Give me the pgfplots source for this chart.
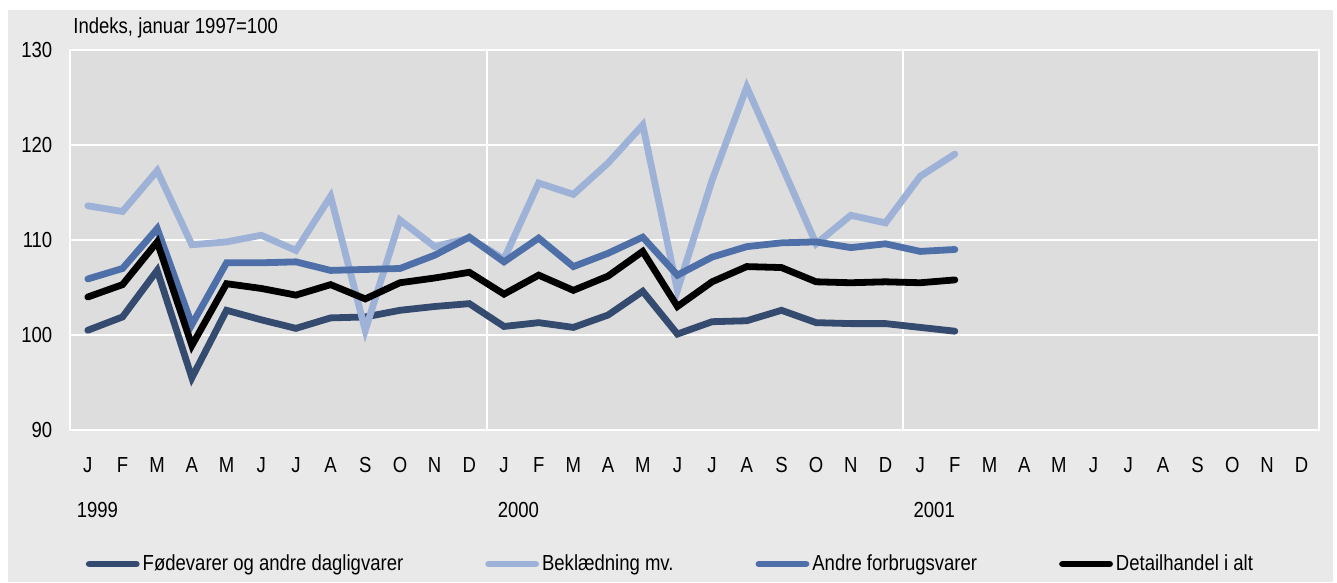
\documentclass[border=0pt]{standalone}
\usepackage{fontspec}
\setmainfont{Liberation Sans}[FakeStretch=0.85]
\usepackage{pgfplots}
\usepackage{pgfplotstable}
\pgfplotsset{compat=1.18}
\definecolor{outerbg}{HTML}{E9E9E9}
\definecolor{plotbg}{HTML}{DDDDDD}
\definecolor{cNavy}{HTML}{344A6E}
\definecolor{cLight}{HTML}{9DB2D6}
\definecolor{cMid}{HTML}{4F6FA8}

\pgfplotstableread{
x y
0 100.5
1 101.9
2 106.8
3 95.5
4 102.6
5 101.6
6 100.7
7 101.8
8 101.9
9 102.6
10 103.0
11 103.3
12 100.9
13 101.3
14 100.8
15 102.1
16 104.6
17 100.1
18 101.4
19 101.5
20 102.6
21 101.3
22 101.2
23 101.2
24 100.8
25 100.4
}\foede
\pgfplotstableread{
x y
0 113.6
1 113.0
2 117.3
3 109.5
4 109.8
5 110.5
6 108.9
7 114.6
8 100.5
9 112.1
10 109.3
11 110.2
12 108.0
13 116.0
14 114.8
15 118.1
16 122.1
17 104.7
18 116.3
19 126.1
20 117.9
21 109.6
22 112.6
23 111.8
24 116.7
25 119.05
}\bekl
\pgfplotstableread{
x y
0 105.9
1 107.0
2 111.2
3 101.1
4 107.6
5 107.6
6 107.7
7 106.8
8 106.9
9 107.0
10 108.4
11 110.3
12 107.7
13 110.2
14 107.2
15 108.6
16 110.3
17 106.3
18 108.2
19 109.3
20 109.7
21 109.8
22 109.2
23 109.6
24 108.8
25 109.0
}\andre
\pgfplotstableread{
x y
0 104.0
1 105.3
2 109.8
3 98.9
4 105.4
5 104.9
6 104.2
7 105.3
8 103.8
9 105.5
10 106.0
11 106.6
12 104.3
13 106.3
14 104.7
15 106.2
16 108.8
17 103.0
18 105.6
19 107.2
20 107.1
21 105.6
22 105.5
23 105.6
24 105.5
25 105.8
}\detail

\begin{document}
\begin{tikzpicture}[font=\fontsize{10.9bp}{13bp}\selectfont]
\fill[white] (-35.25bp,-76.5bp) rectangle (633.25bp,215bp);
\useasboundingbox (-35.25bp,-76.5bp) rectangle (633.25bp,215bp);
\fill[outerbg] (-31.25bp,-76bp) rectangle (631.25bp,210bp);
\begin{axis}[
  at={(0,0)}, anchor=south west,
  scale only axis, width=624.25bp, height=190bp,
  xmin=-0.5, xmax=35.5, ymin=90, ymax=130,
  clip=false,
  axis background/.style={fill=plotbg},
  axis line style={white, line width=1bp},
  ytick={90,100,110,120,130},
  ymajorgrids,
  grid style={white, line width=1bp},
  xtick={0,...,35},
  xticklabels={J,F,M,A,M,J,J,A,S,O,N,D,J,F,M,A,M,J,J,A,S,O,N,D,J,F,M,A,M,J,J,A,S,O,N,D},
  extra x ticks={11.5,23.5},
  extra x tick labels={},
  extra x tick style={grid=major, major tick length=0pt},
  major tick length=0pt,
  tick style={draw=none},
  /pgf/number format/assume math mode=true,
  yticklabel style={anchor=east, inner sep=0pt, xshift=-8.9bp},
  xticklabel style={anchor=base, inner sep=0pt, yshift=-21.35bp},
  legend columns=4,
  legend cell align=left,
  legend image code/.code={\draw[#1, line cap=round] (0bp,0bp) -- (23.5bp,0bp);},
  legend style={at={(axis description cs:0,0)}, anchor=west, xshift=7.5bp, yshift=-67bp,
    draw=none, fill=none, inner sep=0pt, column sep=1.5bp,
    /tikz/every even column/.append style={column sep=41bp},
    nodes={inner sep=0pt}},
  every axis plot/.append style={line width=3.4bp, line join=miter, line cap=round},
]
\addplot[cNavy] table[x=x,y=y]{\foede};
\addlegendentry{Fødevarer og andre dagligvarer}
\addplot[cLight] table[x=x,y=y]{\bekl};
\addlegendentry{Beklædning mv.}
\addplot[cMid] table[x=x,y=y]{\andre};
\addlegendentry{Andre forbrugsvarer}
\addplot[black] table[x=x,y=y]{\detail};
\addlegendentry{Detailhandel i alt}
\node[anchor=base west, inner sep=0pt, xshift=1.25bp, yshift=8.5bp] at (rel axis cs:0,1) {Indeks, januar 1997=100};
\node[anchor=base west, inner sep=0pt, yshift=-43.5bp] at (axis cs:-0.33,90) {1999};
\node[anchor=base west, inner sep=0pt, yshift=-43.5bp] at (axis cs:11.81,90) {2000};
\node[anchor=base west, inner sep=0pt, yshift=-43.5bp] at (axis cs:23.80,90) {2001};
\end{axis}
\end{tikzpicture}
\end{document}
